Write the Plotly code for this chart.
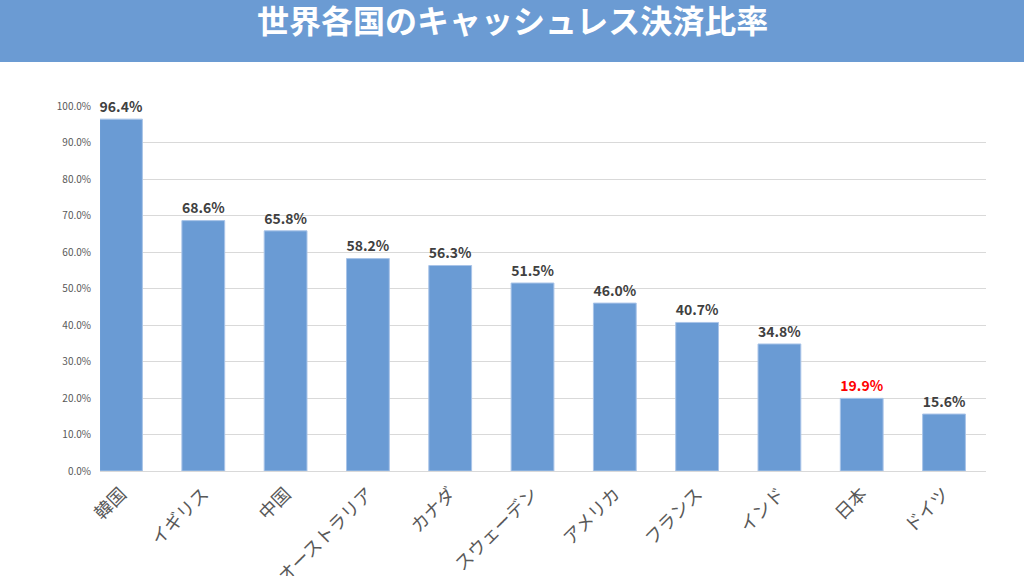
import plotly.graph_objects as go

countries = ["韓国", "イギリス", "中国", "オーストラリア", "カナダ", "スウェーデン",
             "アメリカ", "フランス", "インド", "日本", "ドイツ"]
rates = [0.964, 0.686, 0.658, 0.582, 0.563, 0.515, 0.460, 0.407, 0.348, 0.199, 0.156]
label_colors = ["#404040"] * 9 + ["#FF0000", "#404040"]

W, H = 1024, 576
ml, mr, mt, mb = 100, 38, 106, 105
pw, ph = W - ml - mr, H - mt - mb


def px_x(p):
    return (p - ml) / pw


def px_y(p):
    return (H - mb - p) / ph


fig = go.Figure()
fig.add_trace(go.Bar(
    x=list(range(len(countries))), y=rates,
    width=0.52,
    marker=dict(color="#6A9BD4", line=dict(color="#A9C4E8", width=1)),
    text=[f"{v*100:.1f}%" for v in rates],
    textposition="outside",
    textfont=dict(family="Noto Sans CJK JP", size=17, color=label_colors, weight="bold"),
    cliponaxis=False,
))

# title band
fig.add_shape(type="rect", xref="paper", yref="paper",
              x0=px_x(-2), x1=px_x(W + 2), y0=px_y(62), y1=px_y(-2),
              fillcolor="#6B9BD3", line=dict(width=0), layer="below")
fig.add_annotation(xref="paper", yref="paper", x=px_x(W / 2), y=px_y(19),
                   text="<b>世界各国のキャッシュレス決済比率</b>", showarrow=False,
                   xanchor="center", yanchor="middle",
                   font=dict(family="Noto Sans CJK JP", size=32, color="white"))

fig.update_xaxes(
    range=[-0.255, 10.51], automargin=False,
    tickvals=list(range(len(countries))), ticktext=countries,
    tickangle=-45, showgrid=False, showline=False, ticks="",
    tickfont=dict(family="Noto Sans CJK JP", size=18, color="#595959"),
    ticklabelstandoff=8,
)
fig.update_yaxes(
    range=[0, 1.0], dtick=0.1, tickformat=".1%", automargin=False,
    showgrid=True, gridcolor="#D9D9D9", gridwidth=1,
    zeroline=True, zerolinecolor="#D9D9D9", zerolinewidth=1,
    tickfont=dict(family="Noto Sans CJK JP", size=10, color="#595959"),
    ticklabelstandoff=8,
)
fig.update_layout(
    width=W, height=H,
    margin=dict(l=ml, r=mr, t=mt, b=mb),
    plot_bgcolor="white", paper_bgcolor="white",
    showlegend=False,
)

# keep the page exactly the size of the figure (no body margin, no scroll)
fix_page = (
    "var gd=document.getElementById('{plot_id}');"
    "document.documentElement.style.cssText='margin:0;padding:0;overflow:hidden;height:%dpx;';"
    "document.body.style.cssText='margin:0;padding:0;overflow:hidden;height:%dpx;';"
    "gd.parentNode.style.cssText='margin:0;padding:0;height:%dpx;width:%dpx;overflow:hidden;';"
    "Plotly.relayout(gd, {width: %d, height: %d});" % (H, H, H, W, W, H)
)
fig.write_html("out.html", post_script=fix_page,
               config={"displayModeBar": False, "responsive": False})
